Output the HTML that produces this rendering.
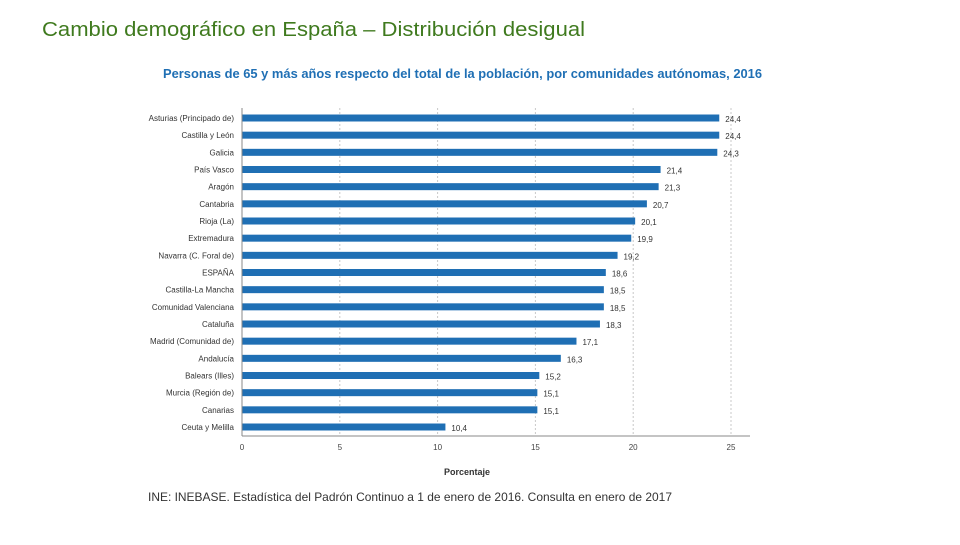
<!DOCTYPE html>
<html><head><meta charset="utf-8"><style>
body{margin:0;width:960px;height:540px;background:#fff;overflow:hidden;font-family:"Liberation Sans",sans-serif}
</style></head><body>
<svg width="960" height="540" xmlns="http://www.w3.org/2000/svg">
<text x="42" y="36" font-size="20" fill="#3f7a1e" textLength="543" lengthAdjust="spacingAndGlyphs">Cambio demográfico en España – Distribución desigual</text>
<text x="163" y="78" font-size="13" font-weight="bold" fill="#1f6fb4" textLength="599" lengthAdjust="spacingAndGlyphs">Personas de 65 y más años respecto del total de la población, por comunidades autónomas, 2016</text>
<g id="grid"></g><g id="bars"></g><g id="axis"></g>
<text x="467" y="475" font-size="9" font-weight="bold" fill="#333" text-anchor="middle">Porcentaje</text>
<text x="148" y="501" font-size="12" fill="#333" textLength="524" lengthAdjust="spacingAndGlyphs">INE: INEBASE. Estadística del Padrón Continuo a 1 de enero de 2016. Consulta en enero de 2017</text>
</svg>
<script>
const categories=["Asturias (Principado de)","Castilla y León","Galicia","País Vasco","Aragón","Cantabria","Rioja (La)","Extremadura","Navarra (C. Foral de)","ESPAÑA","Castilla-La Mancha","Comunidad Valenciana","Cataluña","Madrid (Comunidad de)","Andalucía","Balears (Illes)","Murcia (Región de)","Canarias","Ceuta y Melilla"];
const values=[24.4,24.4,24.3,21.4,21.3,20.7,20.1,19.9,19.2,18.6,18.5,18.5,18.3,17.1,16.3,15.2,15.1,15.1,10.4];
const ticks=[0,5,10,15,20,25];
const NS="http://www.w3.org/2000/svg";
const x=v=>242+v*(731-242)/25;
const y=i=>118+i*(427-118)/18;
function mk(t,a,p){const e=document.createElementNS(NS,t);for(const k in a)e.setAttribute(k,a[k]);p.appendChild(e);return e;}
const grid=document.getElementById('grid'),bars=document.getElementById('bars'),axis=document.getElementById('axis');
ticks.forEach(t=>{
 if(t>0){const g=mk('line',{x1:x(t),x2:x(t),y1:108,y2:436,stroke:'#c8c8c8','stroke-dasharray':'2,2'},grid);
 
 }
 const l=mk('text',{x:x(t),y:450,'font-size':8,fill:'#444','text-anchor':'middle'},axis);l.textContent=t;
 
 
});
mk('line',{x1:242,x2:750,y1:436,y2:436,stroke:'#888'},axis);
mk('line',{x1:242,x2:242,y1:108,y2:436,stroke:'#888'},axis);
categories.forEach((c,i)=>{
 const r=mk('rect',{x:242,y:y(i)-3.5,width:x(values[i])-242,height:7,fill:'#1f6fb4'},bars);
 
 
 const lb=mk('text',{x:234,y:y(i)+3,'font-size':8,fill:'#333','text-anchor':'end'},bars);lb.textContent=c;
 
 
 const v=mk('text',{x:x(values[i])+6,y:y(i)+4,'font-size':8,fill:'#333'},bars);v.textContent=String(values[i]).replace('.',',');
 
 
});
</script>
</body></html>
